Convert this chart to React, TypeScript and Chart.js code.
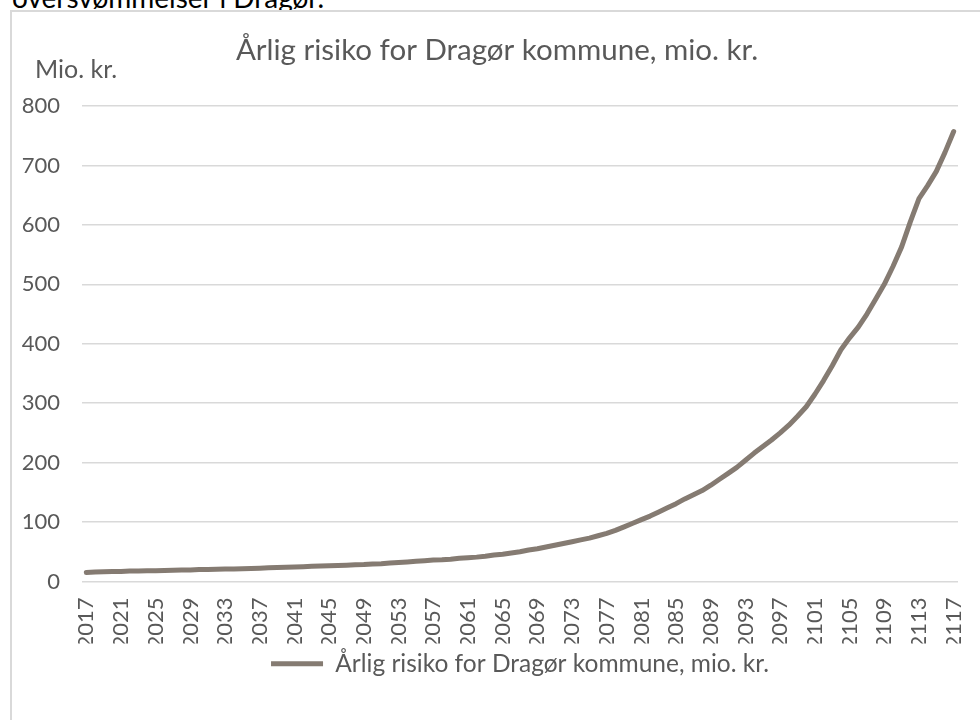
import React, { useEffect, useRef } from "react";
import { Chart, registerables } from "chart.js";

Chart.register(...registerables);

const FIRST_YEAR = 2017;
const LAST_YEAR = 2117;
const years: string[] = [];
for (let y = FIRST_YEAR; y <= LAST_YEAR; y++) years.push(String(y));

const LABEL_EVERY = 4;

const seriesLabel = "Årlig risiko for Dragør kommune, mio. kr.";
const chartTitle = "Årlig risiko for Dragør kommune, mio. kr.";
const yAxisTitle = "Mio. kr.";
const pageHeading = "oversvømmelser i Dragør.";

// Annual risk, million DKK, 2017..2117
const risk: number[] = [
  15, 16, 16.5, 17, 17, 17.5, 17.5, 18, 18, 18.5,
  19, 19.5, 19.5, 20, 20, 20.5, 21, 21, 21.5, 22,
  22.5, 23, 23.5, 24, 24.5, 25, 25.5, 26, 26.5, 27,
  27.5, 28, 28.5, 29.5, 30, 31, 32, 33, 34, 35,
  36, 36.5, 37.5, 39, 40, 41, 42.5, 44.5, 46, 48,
  50, 53, 55, 58, 61, 64, 67, 70, 73, 77,
  81, 86, 92, 98, 104, 110, 117, 124, 131, 139,
  146, 153, 162, 172, 182, 192, 204, 216, 227, 238,
  250, 263, 278, 294, 315, 338, 363, 390, 410, 428,
  450, 475, 500, 530, 563, 605, 644, 666, 690, 722,
  757,
];

const yMin = 0;
const yMax = 800;
const yStep = 100;

const FONT = "Lato, 'Open Sans', sans-serif";
const TEXT = "#595959";
const LINE = "#857b72";
const GRID = "#d9d9d9";

const decor = {
  id: "decor",
  beforeDraw(chart: any) {
    const ctx = chart.ctx;
    ctx.save();
    ctx.fillStyle = "#ffffff";
    ctx.fillRect(10, 10, chart.width, chart.height);
    ctx.strokeStyle = GRID;
    ctx.lineWidth = 2;
    ctx.strokeRect(11, 11, chart.width + 40, chart.height + 40);
    ctx.restore();
  },
  afterDraw(chart: any) {
    const ctx = chart.ctx;
    ctx.save();
    ctx.fillStyle = TEXT;
    ctx.textBaseline = "middle";
    ctx.textAlign = "center";
    ctx.font = `29.5px ${FONT}`;
    ctx.fillText(chartTitle, 497, 50);
    ctx.textAlign = "left";
    ctx.font = `25px ${FONT}`;
    ctx.fillText(yAxisTitle, 35, 70);
    ctx.restore();
  },
};

export default function App() {
  const ref = useRef<HTMLCanvasElement | null>(null);

  useEffect(() => {
    document.body.style.margin = "0";
    document.body.style.overflow = "hidden";
    const canvas = ref.current;
    if (!canvas) return;
    const chart = new Chart(canvas, {
      type: "line",
      data: {
        labels: years,
        datasets: [
          {
            label: seriesLabel,
            data: risk,
            borderColor: LINE,
            backgroundColor: LINE,
            borderWidth: 5,
            pointRadius: 0,
            pointHoverRadius: 0,
            tension: 0,
            fill: false,
            borderCapStyle: "round",
            borderJoinStyle: "round",
          },
        ],
      },
      plugins: [decor],
      options: {
        responsive: false,
        animation: false,
        devicePixelRatio: 1,
        layout: { padding: { top: 106, right: 22, left: 0, bottom: 34 } },
        plugins: {
          title: { display: false },
          tooltip: { enabled: false },
          legend: {
            display: true,
            position: "bottom",
            fullSize: false,
            labels: {
              font: { family: FONT, size: 24.5 },
              color: TEXT,
              boxWidth: 52,
              boxHeight: 5,
              padding: 8,
              generateLabels: (c: any) =>
                c.data.datasets.map((ds: any, i: number) => ({
                  text: ds.label,
                  fillStyle: ds.borderColor,
                  strokeStyle: ds.borderColor,
                  lineWidth: 0,
                  hidden: false,
                  datasetIndex: i,
                  fontColor: TEXT,
                })),
            },
          },
        },
        scales: {
          x: {
            type: "category",
            offset: true,
            grid: { display: false, drawTicks: false },
            border: { display: false },
            ticks: {
              autoSkip: false,
              minRotation: 90,
              maxRotation: 90,
              padding: 16,
              color: TEXT,
              font: { family: FONT, size: 22 },
              callback: (_v: any, i: number) => (i % LABEL_EVERY === 0 ? years[i] : ""),
            },
            afterFit: (s: any) => {
              s.height = 62;
              s.paddingLeft = 0;
              s.paddingRight = 0;
            },
          },
          y: {
            min: yMin,
            max: yMax,
            grid: { color: GRID, lineWidth: 1.5, drawTicks: false },
            border: { display: false },
            ticks: {
              stepSize: yStep,
              padding: 22,
              color: TEXT,
              font: { family: FONT, size: 22 },
            },
            afterFit: (s: any) => {
              s.width = 82;
              s.paddingTop = 0;
              s.paddingBottom = 0;
            },
          },
        },
      },
    } as any);
    return () => chart.destroy();
  }, []);

  return (
    <div style={{ position: "fixed", left: 0, top: 0, width: 980, height: 720, overflow: "hidden", background: "#fff" }}>
      <div
        style={{
          position: "absolute",
          left: 12,
          top: -17,
          fontFamily: FONT,
          fontSize: 28,
          lineHeight: "28px",
          color: "#000",
          whiteSpace: "nowrap",
          zIndex: 0,
        }}
      >
        {pageHeading}
      </div>
      <canvas
        ref={ref}
        width={980}
        height={720}
        style={{ position: "absolute", left: 0, top: 0, width: 980, height: 720, zIndex: 1 }}
      />
    </div>
  );
}
